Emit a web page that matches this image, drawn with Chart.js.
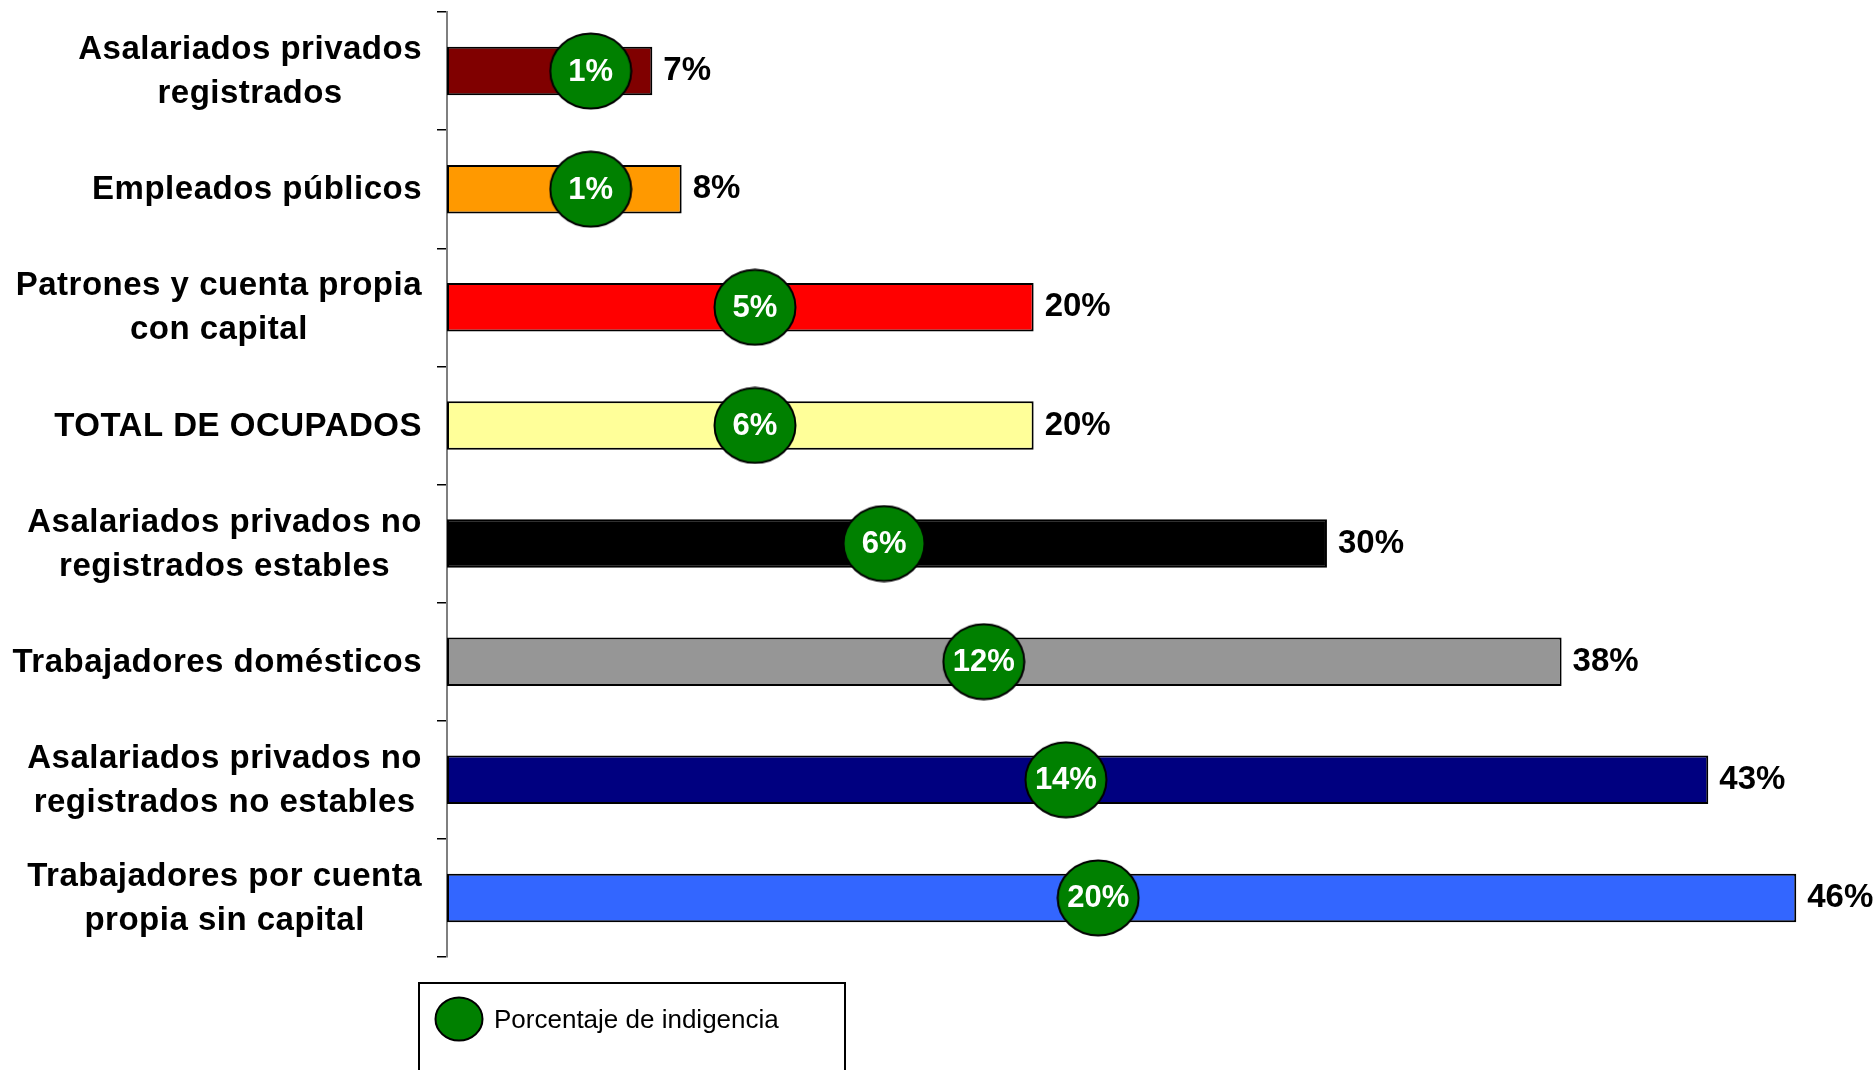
<!DOCTYPE html>
<html>
<head>
<meta charset="utf-8">
<script src="https://cdn.jsdelivr.net/npm/chart.js@4.4.1/dist/chart.umd.min.js"></script>
<style>
  html, body { margin: 0; padding: 0; background: #fff; }
  #wrap { width: 1876px; height: 1070px; }
</style>
</head>
<body>
<div id="wrap"><canvas id="grafico" width="1876" height="1070"></canvas></div>
<script>
// categorias (de arriba hacia abajo), cada una con sus renglones
var categorias = [
  ['Asalariados privados', 'registrados'],
  ['Empleados públicos'],
  ['Patrones y cuenta propia', 'con capital'],
  ['TOTAL DE OCUPADOS'],
  ['Asalariados privados no', 'registrados estables'],
  ['Trabajadores domésticos'],
  ['Asalariados privados no', 'registrados no estables'],
  ['Trabajadores por cuenta', 'propia sin capital']
];
// porcentaje de pobreza (barras)
var pobreza = [7, 8, 20, 20, 30, 38, 43, 46];
// porcentaje de indigencia (circulos)
var indigencia = [1, 1, 5, 6, 6, 12, 14, 20];
// donde cae cada circulo sobre la escala de las barras
var posIndigencia = [4.9, 4.9, 10.5, 10.5, 14.9, 18.3, 21.1, 22.2];

var coloresBarras = ['#800000', '#FF9900', '#FF0000', '#FFFF99', '#000000', '#969696', '#000080', '#3366FF'];
var verde = '#008000';
var fuente = "'Liberation Sans', Arial, sans-serif";

// el circulo verde es un poco mas ancho que alto
function elipse(w, h) {
  var c = document.createElement('canvas');
  c.width = w; c.height = h;
  var g = c.getContext('2d');
  g.beginPath();
  g.ellipse(w / 2, h / 2, w / 2 - 1.5, h / 2 - 1.5, 0, 0, Math.PI * 2);
  g.fillStyle = verde;
  g.fill();
  g.lineWidth = 2;
  g.strokeStyle = '#000';
  g.stroke();
  return c;
}
var circulo = elipse(84, 78);

var etiquetas = {
  id: 'etiquetas',
  afterDatasetsDraw: function (chart) {
    var ctx = chart.ctx;
    ctx.save();
    ctx.textBaseline = 'middle';
    // valores de las barras
    ctx.font = 'bold 33px ' + fuente;
    ctx.fillStyle = '#000';
    ctx.textAlign = 'left';
    chart.getDatasetMeta(0).data.forEach(function (bar, i) {
      ctx.fillText(pobreza[i] + '%', bar.x + 11, bar.y);
    });
    // valores dentro de los circulos
    ctx.font = 'bold 31px ' + fuente;
    ctx.fillStyle = '#fff';
    ctx.textAlign = 'center';
    chart.getDatasetMeta(1).data.forEach(function (pt, i) {
      ctx.fillText(indigencia[i] + '%', pt.x, pt.y + 1);
    });
    ctx.restore();
  },
  afterDraw: function (chart) {
    var ctx = chart.ctx;
    var y = chart.scales.y;
    ctx.save();
    // nombres de categoria: bloque alineado a la derecha, renglones centrados
    ctx.font = 'bold 33px ' + fuente;
    ctx.letterSpacing = '0.5px';
    ctx.fillStyle = '#000';
    ctx.textAlign = 'center';
    ctx.textBaseline = 'middle';
    var derecha = 422, interlineado = 44;
    categorias.forEach(function (lineas, i) {
      var ancho = 0;
      lineas.forEach(function (t) { ancho = Math.max(ancho, ctx.measureText(t).width); });
      var cx = derecha - ancho / 2;
      var cy = y.getPixelForValue(i) + 1;
      var y0 = cy - (lineas.length - 1) * interlineado / 2;
      lineas.forEach(function (t, k) {
        ctx.fillText(t, cx, y0 + k * interlineado);
      });
    });
    ctx.letterSpacing = '0px';
    // leyenda
    ctx.lineWidth = 2;
    ctx.strokeStyle = '#000';
    ctx.strokeRect(419, 983, 426, 120);
    ctx.drawImage(elipse(50, 46), 434, 996);
    ctx.font = '26px ' + fuente;
    ctx.textAlign = 'left';
    ctx.fillText(chart.data.datasets[1].label, 494, 1021);
    ctx.restore();
  }
};

new Chart(document.getElementById('grafico'), {
  type: 'bar',
  data: {
    labels: categorias.map(function (c) { return c.join(' '); }),
    datasets: [
      {
        label: 'Porcentaje de pobreza',
        data: pobreza,
        backgroundColor: coloresBarras,
        borderColor: '#000',
        borderWidth: 2,
        borderSkipped: false,
        barPercentage: 0.41,
        categoryPercentage: 1,
        order: 1
      },
      {
        type: 'line',
        label: 'Porcentaje de indigencia',
        data: posIndigencia,
        showLine: false,
        pointStyle: circulo,
        backgroundColor: verde,
        borderColor: '#000',
        clip: false,
        order: 0
      }
    ]
  },
  options: {
    indexAxis: 'y',
    responsive: false,
    devicePixelRatio: 1,
    animation: false,
    layout: { padding: { top: 12, bottom: 113, left: 0, right: 24 } },
    plugins: { legend: { display: false }, tooltip: { enabled: false } },
    scales: {
      x: { type: 'linear', display: false, min: 0, max: 47.9 },
      y: {
        type: 'category',
        offset: true,
        ticks: { display: false },
        grid: { offset: true, drawOnChartArea: false, drawTicks: true, tickLength: 10, color: '#000', lineWidth: 1.5 },
        border: { display: true, color: '#7f7f7f', width: 2 },
        afterFit: function (scale) { scale.width = 447; }
      }
    }
  },
  plugins: [etiquetas]
});
</script>
</body>
</html>
